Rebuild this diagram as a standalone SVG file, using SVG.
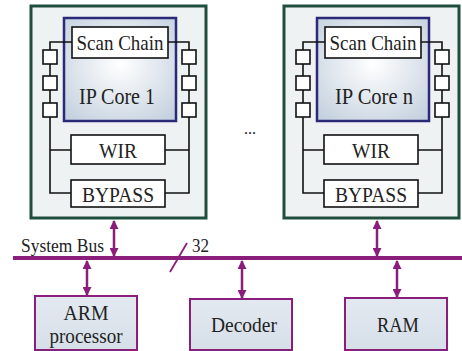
<svg xmlns="http://www.w3.org/2000/svg" width="462" height="351" viewBox="0 0 462 351">
<style>
.outer{fill:#eef2f2;stroke:#1f4e3d;stroke-width:3}
.core{fill:url(#coreg);stroke:#2b2a78;stroke-width:2.5}
.wb{fill:#ffffff;stroke:#111;stroke-width:1.6}
.wire{fill:none;stroke:#111;stroke-width:1.6}
.t{fill:#222;text-anchor:middle}
.dev{fill:url(#devg);stroke:#8b1e7a;stroke-width:2}
.bus{stroke:#8b1e7a;stroke-width:4;fill:none}
.arr{stroke:#8b1e7a;stroke-width:2.5;fill:none;marker-start:url(#ah);marker-end:url(#ah)}
</style>
<defs>
<radialGradient id="coreg" cx="0.5" cy="0.45" r="0.7">
<stop offset="0" stop-color="#ffffff"/>
<stop offset="1" stop-color="#c3d0de"/>
</radialGradient>
<linearGradient id="devg" x1="0" y1="0" x2="0" y2="1">
<stop offset="0" stop-color="#e3e9f0"/>
<stop offset="1" stop-color="#d6dfe9"/>
</linearGradient>
<marker id="ah" viewBox="0 0 10 10" refX="9" refY="5" markerUnits="userSpaceOnUse" markerWidth="10" markerHeight="9" orient="auto-start-reverse">
<path d="M0,0 L10,5 L0,10 Z" fill="#8b1e7a"/>
</marker>
<g id="wrapper" font-family="Liberation Serif, Times New Roman, serif">
<rect class="outer" x="31" y="6" width="175" height="212"/>
<rect class="core" x="64" y="18" width="112" height="103"/>
<path class="wire" d="M72,42 H50 V193 H71 M50,150 H71 M168,42 H189 V193 H165 M189,150 H165"/>
<rect class="wb" x="43" y="50" width="14" height="14"/>
<rect class="wb" x="43" y="76" width="14" height="14"/>
<rect class="wb" x="43" y="103" width="14" height="14"/>
<rect class="wb" x="182" y="50" width="14" height="14"/>
<rect class="wb" x="182" y="76" width="14" height="14"/>
<rect class="wb" x="182" y="103" width="14" height="14"/>
<rect class="wb" x="72" y="27" width="96" height="31"/>
<rect class="wb" x="71" y="135" width="94" height="29"/>
<rect class="wb" x="71" y="180" width="94" height="27"/>
<text class="t" x="120" y="50" font-size="22" textLength="87" lengthAdjust="spacingAndGlyphs">Scan Chain</text>
<text class="t" x="118" y="158" font-size="22" textLength="38" lengthAdjust="spacingAndGlyphs">WIR</text>
<text class="t" x="118" y="202" font-size="22" textLength="72" lengthAdjust="spacingAndGlyphs">BYPASS</text>
</g>
</defs>
<g font-family="Liberation Serif, Times New Roman, serif">
<g id="core1">
<use href="#wrapper"/>
<text class="t" x="117" y="104" font-size="24" textLength="76" lengthAdjust="spacingAndGlyphs">IP Core 1</text>
</g>
<g id="coren">
<use href="#wrapper" transform="translate(253,0)"/>
<text class="t" x="374" y="104" font-size="24" textLength="78" lengthAdjust="spacingAndGlyphs">IP Core n</text>
</g>
<text class="t" x="250" y="134" font-size="16">...</text>
<g id="arm">
<rect class="dev" x="35" y="296" width="102" height="54"/>
<text class="t" x="86" y="320" font-size="22" textLength="45" lengthAdjust="spacingAndGlyphs">ARM</text>
<text class="t" x="86" y="343" font-size="22" textLength="73" lengthAdjust="spacingAndGlyphs">processor</text>
</g>
<g id="decoder">
<rect class="dev" x="190" y="299" width="102" height="51"/>
<text class="t" x="244" y="332" font-size="21" textLength="66" lengthAdjust="spacingAndGlyphs">Decoder</text>
</g>
<g id="ram">
<rect class="dev" x="345" y="298" width="102" height="52"/>
<text class="t" x="398" y="332" font-size="21" textLength="42" lengthAdjust="spacingAndGlyphs">RAM</text>
</g>
<g id="connectors">
<line class="bus" x1="13" y1="258" x2="462" y2="258"/>
<line stroke="#8b1e7a" stroke-width="1.8" x1="170" y1="272" x2="187" y2="243"/>
<line class="arr" x1="114" y1="221" x2="114" y2="256"/>
<line class="arr" x1="377" y1="221" x2="377" y2="256"/>
<line class="arr" x1="87" y1="261" x2="87" y2="295"/>
<line class="arr" x1="242" y1="261" x2="242" y2="298"/>
<line class="arr" x1="397" y1="261" x2="397" y2="297"/>
</g>
<text class="t" x="21" y="252" font-size="19" textLength="83" lengthAdjust="spacingAndGlyphs" style="text-anchor:start">System Bus</text>
<text class="t" x="192" y="252" font-size="19" textLength="17" lengthAdjust="spacingAndGlyphs" style="text-anchor:start">32</text>
</g>
</svg>
